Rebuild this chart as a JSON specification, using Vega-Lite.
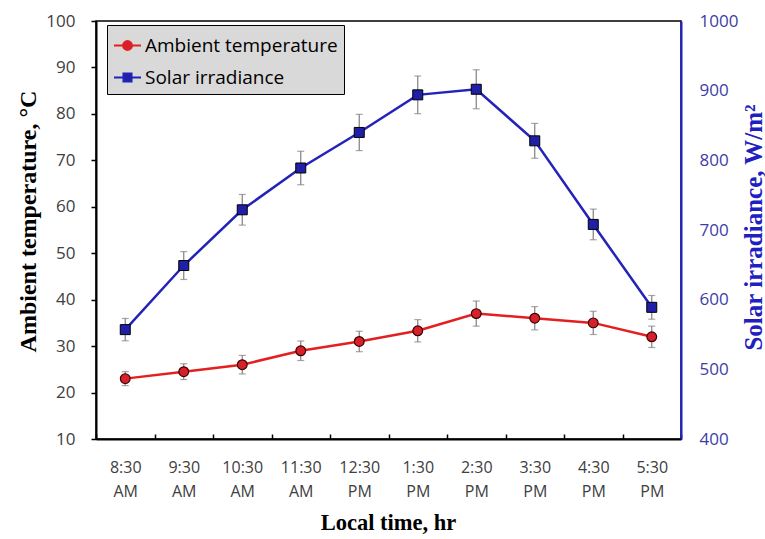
{
  "$schema": "https://vega.github.io/schema/vega-lite/v6.json",
  "width": 585,
  "height": 418,
  "autosize": {"type": "none"},
  "padding": {"left": 96, "top": 21, "right": 84, "bottom": 100},
  "background": "white",
  "config": {"view": {"stroke": "black", "strokeWidth": 1.5}, "font": "Open Sans"},
  "data": {"values": [
    {"time": "8:30 AM", "temp": 23, "temp_err": 1.5, "solar": 557, "solar_err": 16},
    {"time": "9:30 AM", "temp": 24.5, "temp_err": 1.7, "solar": 649, "solar_err": 20},
    {"time": "10:30 AM", "temp": 26, "temp_err": 2.0, "solar": 729, "solar_err": 22},
    {"time": "11:30 AM", "temp": 29, "temp_err": 2.1, "solar": 789, "solar_err": 24},
    {"time": "12:30 PM", "temp": 31, "temp_err": 2.2, "solar": 840, "solar_err": 26},
    {"time": "1:30 PM", "temp": 33.3, "temp_err": 2.4, "solar": 894, "solar_err": 27},
    {"time": "2:30 PM", "temp": 37, "temp_err": 2.7, "solar": 902, "solar_err": 28},
    {"time": "3:30 PM", "temp": 36, "temp_err": 2.5, "solar": 828, "solar_err": 25},
    {"time": "4:30 PM", "temp": 35, "temp_err": 2.5, "solar": 708, "solar_err": 22},
    {"time": "5:30 PM", "temp": 32, "temp_err": 2.3, "solar": 589, "solar_err": 17}
  ]},
  "encoding": {
    "x": {
      "field": "time", "type": "ordinal", "sort": null,
      "scale": {"type": "band", "paddingInner": 0, "paddingOuter": 0},
      "axis": {
        "title": "Local time, hr", "titleFont": "Liberation Serif", "titleFontWeight": "bold", "titleFontSize": 22.5, "titleColor": "black",
        "titleX": 292, "titleY": 83, "titleBaseline": "middle", "titleAlign": "center",
        "labelAngle": 0, "labelExpr": "split(datum.label, ' ')", "labelLineHeight": 24, "labelFontSize": 16, "labelColor": "#404040", "labelFont": "Open Sans",
        "labelPadding": 25, "labelBaseline": "top",
        "tickBand": "extent", "tickSize": -5, "tickColor": "black", "tickWidth": 1.5,
        "domainColor": "black", "domainWidth": 2, "grid": false, "zindex": 1
      }
    }
  },
  "layer": [
    {
      "layer": [
        {
          "mark": {"type": "errorbar", "ticks": {"size": 7, "color": "#808080"}, "color": "#808080", "thickness": 1.2},
          "encoding": {"y": {"field": "temp", "type": "quantitative", "title": "Ambient temperature, °C"}, "yError": {"field": "temp_err"}}
        },
        {
          "mark": {"type": "line", "color": "#e3201f", "strokeWidth": 2.5},
          "encoding": {"y": {"field": "temp", "type": "quantitative", "title": "Ambient temperature, °C"}}
        },
        {
          "mark": {"type": "point", "shape": "circle", "filled": true, "fill": "#d7212a", "size": 95, "stroke": "#3a0000", "strokeWidth": 1.2, "opacity": 1},
          "encoding": {
            "y": {
              "field": "temp", "type": "quantitative", "title": "Ambient temperature, °C",
              "scale": {"domain": [10, 100], "nice": false, "zero": false},
              "axis": {
                "orient": "left", "values": [10, 20, 30, 40, 50, 60, 70, 80, 90, 100],
                "titleFont": "Liberation Serif", "titleFontWeight": "bold", "titleFontSize": 24, "titleColor": "black",
                "titleX": -67.5, "titleY": 200, "titleAngle": 270, "titleAlign": "center", "titleBaseline": "middle",
                "labelFont": "Open Sans", "labelFontSize": 17, "labelColor": "#404040", "labelPadding": 16,
                "tickSize": 5, "tickColor": "black", "tickWidth": 1.5, "domainColor": "black", "domainWidth": 2, "grid": false, "zindex": 1
              }
            }
          }
        },
        {
          "transform": [{"filter": "false"}],
          "mark": {"type": "point", "filled": true, "opacity": 1},
          "encoding": {
            "y": {"field": "temp", "type": "quantitative", "title": "Ambient temperature, °C"},
            "color": {
              "datum": "Ambient temperature",
              "scale": {"domain": ["Ambient temperature", "Solar irradiance"], "range": ["#d7212a", "#1f1fa8"]},
              "legend": {
                "orient": "none", "legendX": 11, "legendY": 4, "title": null,
                "fillColor": "#d9d9d9", "strokeColor": "black", "padding": 6,
                "symbolSize": 729, "symbolStrokeWidth": 2, "symbolOpacity": 1, "labelFont": "Open Sans", "labelFontSize": 19, "labelColor": "black",
                "labelOffset": 3, "rowPadding": 7, "labelLimit": 400
              }
            },
            "stroke": {
              "datum": "Ambient temperature",
              "scale": {"domain": ["Ambient temperature", "Solar irradiance"], "range": ["#e3201f", "#2323b8"]}
            },
            "shape": {
              "datum": "Ambient temperature",
              "scale": {"domain": ["Ambient temperature", "Solar irradiance"], "range": ["M-1,0H-0.33M0.33,0H1M-0.33,0A0.33,0.33,0,1,1,0.33,0A0.33,0.33,0,1,1,-0.33,0Z", "M-1,0H-0.3M0.3,0H1M-0.3,-0.3H0.3V0.3H-0.3Z"]}
            }
          }
        }
      ]
    },
    {
      "layer": [
        {
          "mark": {"type": "errorbar", "ticks": {"size": 7, "color": "#808080"}, "color": "#808080", "thickness": 1.2},
          "encoding": {"y": {"field": "solar", "type": "quantitative", "title": "Solar irradiance, W/m²"}, "yError": {"field": "solar_err"}}
        },
        {
          "mark": {"type": "line", "color": "#2323b8", "strokeWidth": 2.5},
          "encoding": {"y": {"field": "solar", "type": "quantitative", "title": "Solar irradiance, W/m²"}}
        },
        {
          "mark": {"type": "point", "shape": "square", "filled": true, "fill": "#1f1fa8", "size": 100, "stroke": "black", "strokeWidth": 1, "opacity": 1},
          "encoding": {
            "y": {
              "field": "solar", "type": "quantitative", "title": "Solar irradiance, W/m²",
              "scale": {"domain": [400, 1000], "nice": false, "zero": false},
              "axis": {
                "orient": "right", "values": [400, 500, 600, 700, 800, 900, 1000], "format": "d",
                "titleFont": "Liberation Serif", "titleFontWeight": "bold", "titleFontSize": 25, "titleColor": "#2020c0",
                "titleX": 72, "titleY": 206, "titleAngle": 270, "titleAlign": "center", "titleBaseline": "middle",
                "labelFont": "Open Sans", "labelFontSize": 17, "labelColor": "#3d3da6", "labelPadding": 18,
                "ticks": false, "domainColor": "#2020d0", "domainWidth": 2, "grid": false, "zindex": 1
              }
            }
          }
        }
      ]
    }
  ],
  "resolve": {"scale": {"y": "independent"}}
}
